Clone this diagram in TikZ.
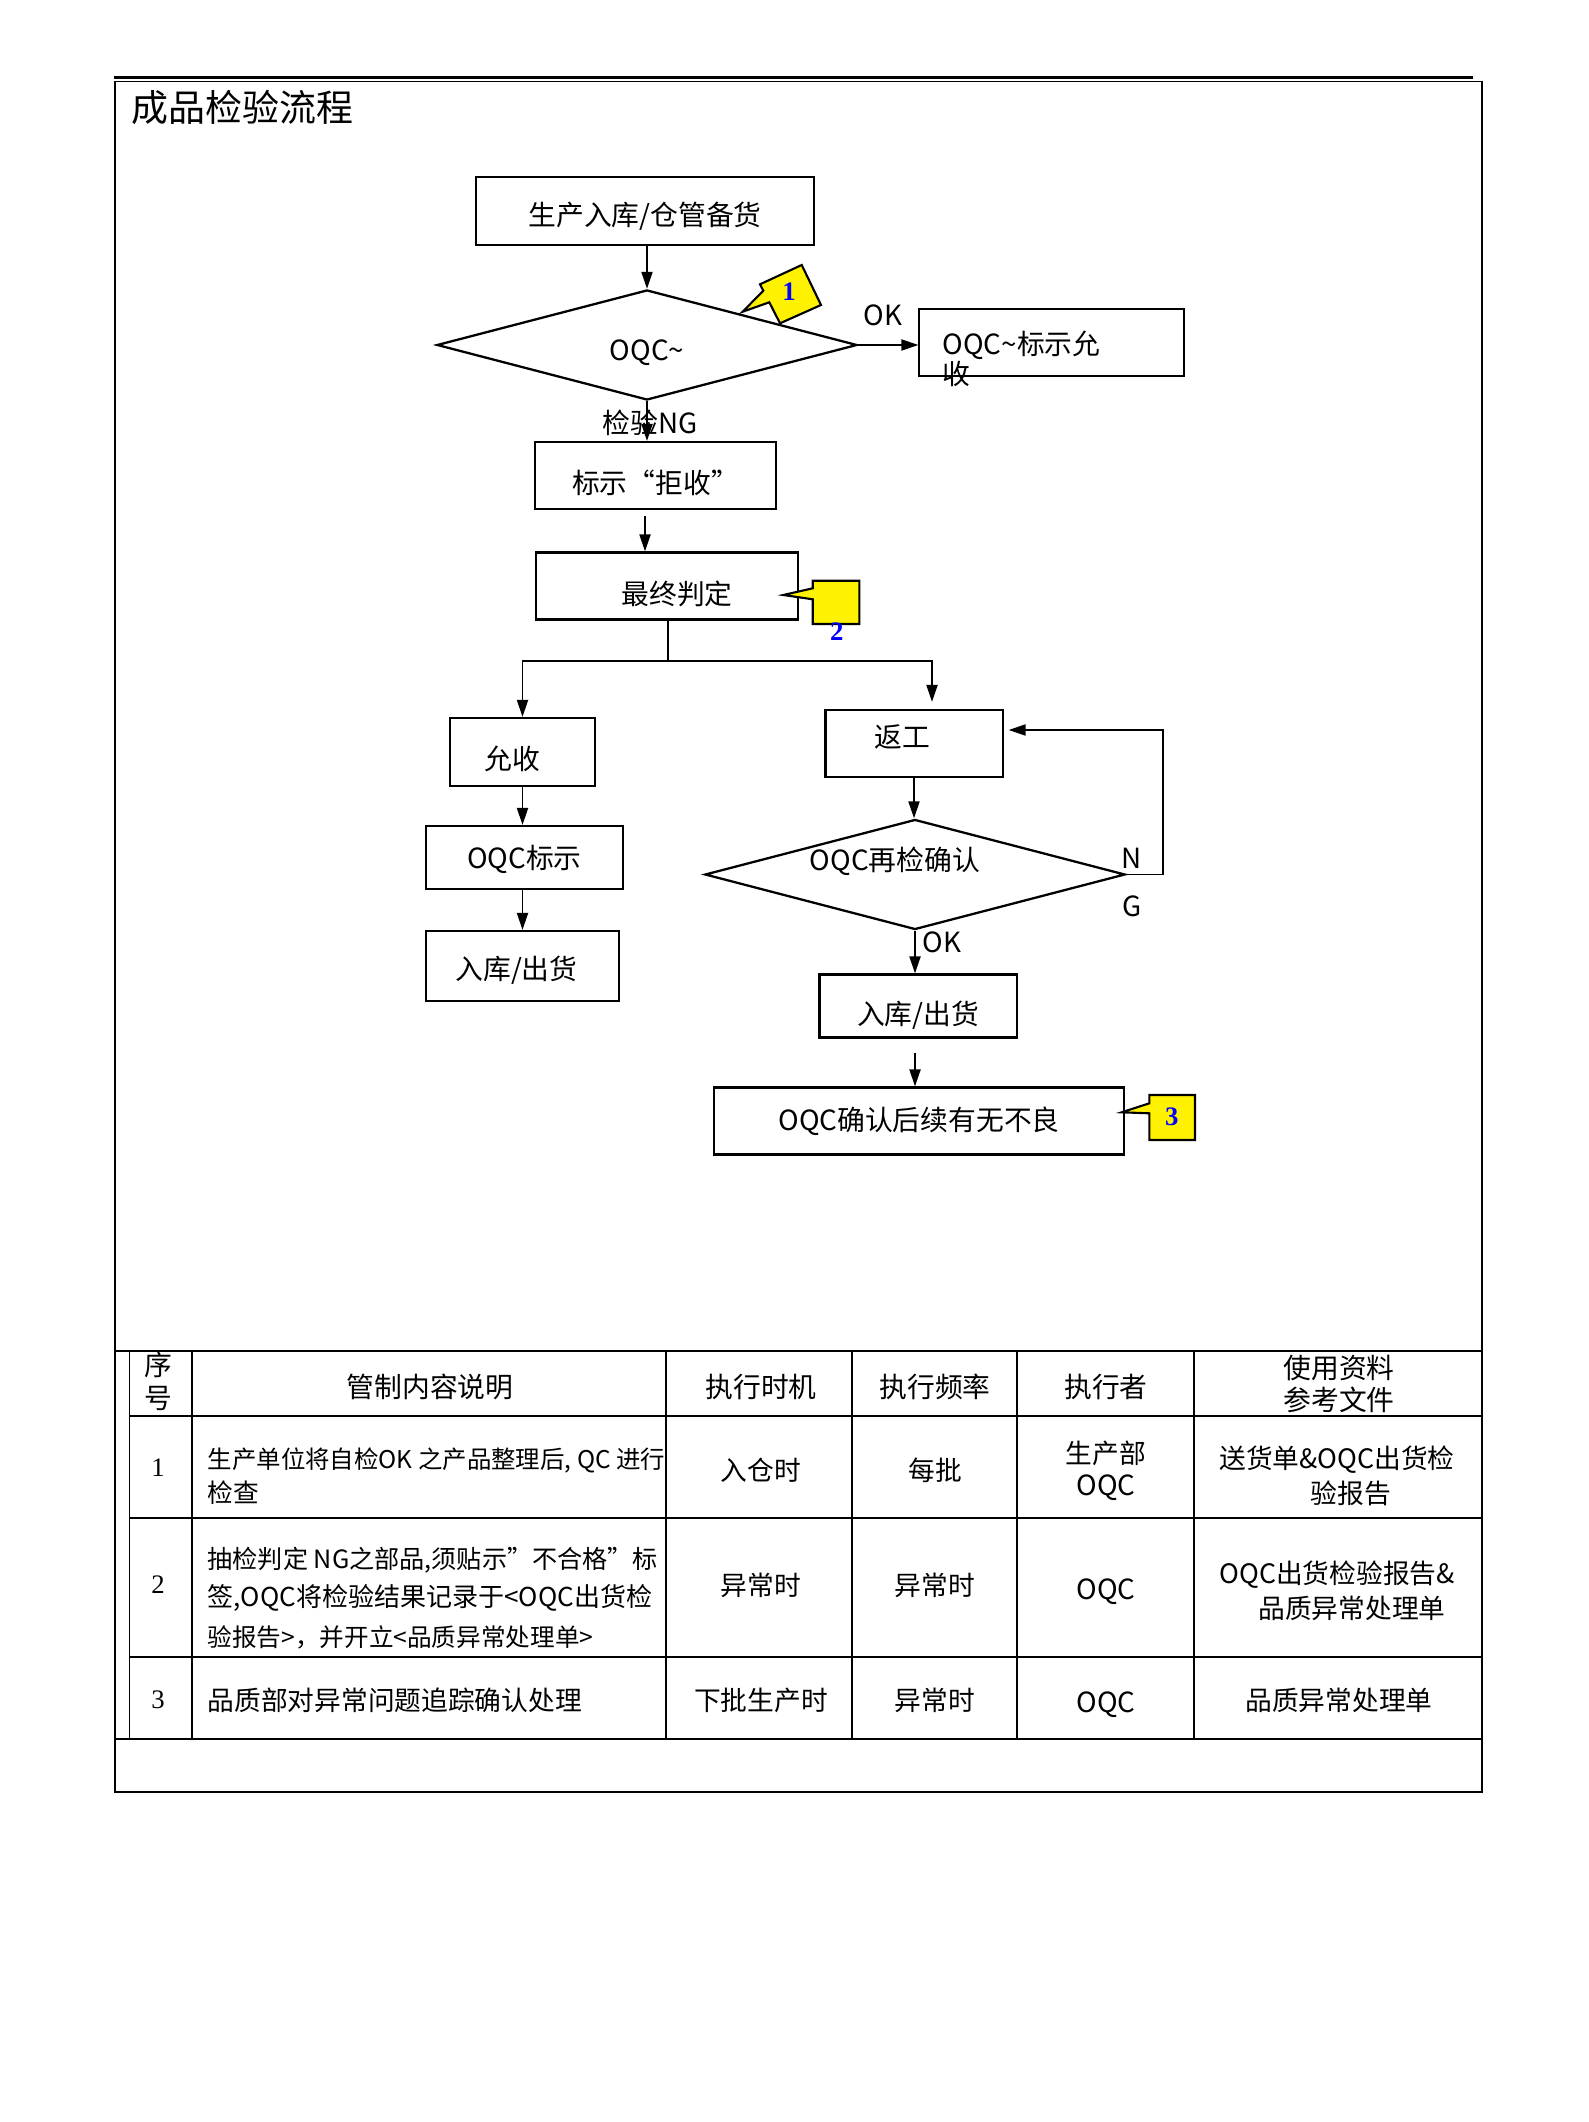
\documentclass[tikz,border=0pt]{standalone}
\usepackage{fontspec}
\setmainfont{Noto Sans CJK SC}
\newfontfamily\numfont{Liberation Serif}
\usetikzlibrary{positioning,shapes.geometric,arrows.meta}

\begin{document}
\begin{tikzpicture}[x=0.01cm,y=-0.01cm,
  box/.style={draw, line width=0.6pt, inner sep=0pt, font=\fontsize{7.9pt}{9.5pt}\selectfont},
  tshift/.style={text height=#1, text depth=0pt},
  dec/.style={diamond, aspect=3.8, draw, line width=0.65pt, inner sep=0pt, minimum width=4.2cm, minimum height=1.1cm, font=\fontsize{7.9pt}{9.5pt}\selectfont},
  arr/.style={-{Triangle[length=1.7mm,width=1.1mm]}, line width=0.55pt},
  note/.style={draw, fill=yellow, line width=0.6pt},
  num/.style={font=\numfont\bfseries\fontsize{7.6pt}{9pt}\selectfont, text=blue, inner sep=0pt},
  lbl/.style={font=\fontsize{7.9pt}{9.5pt}\selectfont, inner sep=0pt},
  cell/.style={font=\fontsize{7.6pt}{9pt}\selectfont, inner sep=0pt},
  desc/.style={anchor=west, inner sep=0pt},
  head/.style={font=\fontsize{7.9pt}{9.5pt}\selectfont, inner sep=0pt},
  grid/.style={line width=0.45pt}]
\useasboundingbox (0,0) rectangle (1588,2122);

% frame
\draw[line width=0.7pt] (114,77.5) -- (1473,77.5);
\draw[grid] (115,81.7) rectangle (1482,1792);
\node[anchor=west, inner sep=0pt, font=\fontsize{10.5pt}{12pt}\selectfont] (T1) at (131,107) {成品检验流程};

% flow
\node[box, tshift=0.29cm, minimum width=3.37cm, minimum height=0.68cm] (P1) at (645,211) {生产入库/仓管备货};
\node[dec, tshift=0.31cm] (Q1) at (647,345) {OQC\textasciitilde};
\node[box, minimum width=2.64cm, minimum height=0.67cm] (K1) at (1051.5,342.5) {};
\node[lbl, anchor=west] (K1a) at (942,345) {OQC\textasciitilde 标示允};
\node[lbl, anchor=west] (K1b) at (942,374) {收};
\node[lbl] (L1) at (883,315) {OK};
\node[box, tshift=0.35cm, minimum width=2.41cm, minimum height=0.67cm] (R1) at (655.5,475.5) {标示“拒收”};
\node[lbl] (L2) at (650,423) {检验NG};
\node[box, tshift=0.37cm, minimum width=2.61cm, minimum height=0.67cm] (J1) at (667,586) {\hspace*{0.2cm}最终判定};
\coordinate (S1) at (668,661);
\node[box, tshift=0.35cm, minimum width=1.45cm, minimum height=0.68cm] (A1) at (522.5,752) {允收\hspace*{0.2cm}};
\node[box, tshift=0.21cm, minimum width=1.97cm, minimum height=0.63cm] (M1) at (524.5,857.5) {OQC标示};
\node[box, tshift=0.27cm, minimum width=1.93cm, minimum height=0.70cm] (W1) at (522.5,966) {入库/出货\hspace*{0.12cm}};
\node[box, tshift=0.07cm, minimum width=1.77cm, minimum height=0.67cm] (F1) at (914,743.5) {返工\hspace*{0.24cm}};
\node[dec] (Q2) at (915,874.5) {\raisebox{0.31cm}{OQC再检确认}\hspace*{0.4cm}};
\node[lbl] (L3) at (1132,858) {N};
\node[lbl] (L4) at (1132,906) {G};
\node[lbl] (L5) at (942,942) {OK};
\node[box, tshift=0.37cm, minimum width=1.97cm, minimum height=0.63cm] (W2) at (918,1006) {入库/出货};
\node[box, minimum width=4.10cm, minimum height=0.67cm] (C1) at (919,1121) {OQC确认后续有无不良};
\coordinate (B1) at (1163,730);

\draw[arr] (P1.south -| Q1.north) -- (Q1.north);
\draw[arr] (Q1.east) -- (Q1.east -| K1.west);
\draw[arr] (Q1.south) -- (Q1.south |- R1.north);
\draw[arr, shorten <=0.06cm] (R1.south -| P1.south) -- (J1.north -| P1.south);
\draw[line width=0.55pt] (J1.south -| S1) -- (S1);
\draw[arr] (S1) -| (A1.north);
\draw[arr, shorten >=0.07cm] (S1) -| ([xshift=0.18cm]F1.north);
\draw[arr] (A1.south) -- (A1.south |- M1.north);
\draw[arr] (A1.south |- M1.south) -- (A1.south |- W1.north);
\draw[arr] (F1.south) -- (F1.south |- Q2.north);
\draw[arr, shorten >=0.05cm] (Q2.east) -| (B1) -- (F1.east |- B1);
\draw[arr] (Q2.south) -- (Q2.south |- W2.north);
\draw[arr, shorten <=0.14cm] (W2.south -| Q2.south) -- (Q2.south |- C1.north);

% notes
\draw[note] (760,284.3) -- (801.7,265) -- (821,305) -- (780,323.3) -- (769.3,302.3) -- (742.7,311.7) -- (763.3,290.7) -- cycle;
\node[num] (N1) at (789,292) {1};
\draw[note] (812.7,580.7) -- (859.3,580.7) -- (859.3,624) -- (812.7,624) -- (812.7,599.3) -- (783.3,595) -- (812.7,588.3) -- cycle;
\node[num] (N2) at (836.7,631.7) {2};
\draw[note] (1149.3,1095) -- (1195,1095) -- (1195,1140) -- (1149.3,1140) -- (1149.3,1113.3) -- (1121.7,1112.3) -- (1149.3,1103.3) -- cycle;
\node[num] (N3) at (1171.7,1117) {3};

% table
\draw[grid] (115,1351) -- (1482,1351);
\draw[grid] (115,1739) -- (1482,1739);
\foreach \y in {1416,1518,1657}
  \draw[grid] (129.5,\y) -- (1482,\y);
\foreach \x in {129.5,192,666,851.8,1017,1193.8}
  \draw[grid] (\x,1351) -- (\x,1739);

\node[head] (H0a) at (158,1365) {序};
\node[head] (H0b) at (158,1398) {号};
\node[head] (H1) at (430,1387) {管制内容说明};
\node[head] (H2) at (761,1387) {执行时机};
\node[head] (H3) at (935,1387) {执行频率};
\node[head] (H4) at (1106,1387) {执行者};
\node[head] (H5a) at (1339,1368) {使用资料};
\node[head] (H5b) at (1339,1400) {参考文件};

\node[cell] (I1) at (158,1468) {\numfont 1};
\node[desc, font=\fontsize{6.95pt}{8pt}\selectfont] (D1a) at (207,1460) {生产单位将自检OK 之产品整理后, QC 进行};
\node[desc, font=\fontsize{7.3pt}{8pt}\selectfont] (D1b) at (207,1493) {检查};
\node[cell] (E1) at (761,1470) {入仓时};
\node[cell] (G1) at (935,1470) {每批};
\node[cell] (U1a) at (1106,1453) {生产部};
\node[head] (U1b) at (1106,1488) {OQC};
\node[cell] (V1a) at (1337,1460) {送货单\&OQC出货检};
\node[cell] (V1b) at (1351,1493) {验报告};

\node[cell] (I2) at (158,1585) {\numfont 2};
\node[desc, font=\fontsize{7.15pt}{8pt}\selectfont] (D2a) at (207,1560) {抽检判定 NG之部品,须贴示”不合格”标};
\node[desc, font=\fontsize{7.4pt}{8pt}\selectfont] (D2b) at (207,1598) {签,OQC将检验结果记录于<OQC出货检};
\node[desc, font=\fontsize{7pt}{8pt}\selectfont] (D2c) at (207,1637) {验报告>，并开立<品质异常处理单>};
\node[cell] (E2) at (761,1585) {异常时};
\node[cell] (G2) at (935,1585) {异常时};
\node[head] (U2) at (1106,1592) {OQC};
\node[cell] (V2a) at (1337,1575) {OQC出货检验报告\&};
\node[cell] (V2b) at (1352,1608) {品质异常处理单};

\node[cell] (I3) at (158,1700) {\numfont 3};
\node[desc, font=\fontsize{7.6pt}{8pt}\selectfont] (D3) at (207,1700) {品质部对异常问题追踪确认处理};
\node[cell] (E3) at (761,1700) {下批生产时};
\node[cell] (G3) at (935,1700) {异常时};
\node[head] (U3) at (1106,1705) {OQC};
\node[cell] (V3) at (1339,1700) {品质异常处理单};
\end{tikzpicture}
\end{document}
